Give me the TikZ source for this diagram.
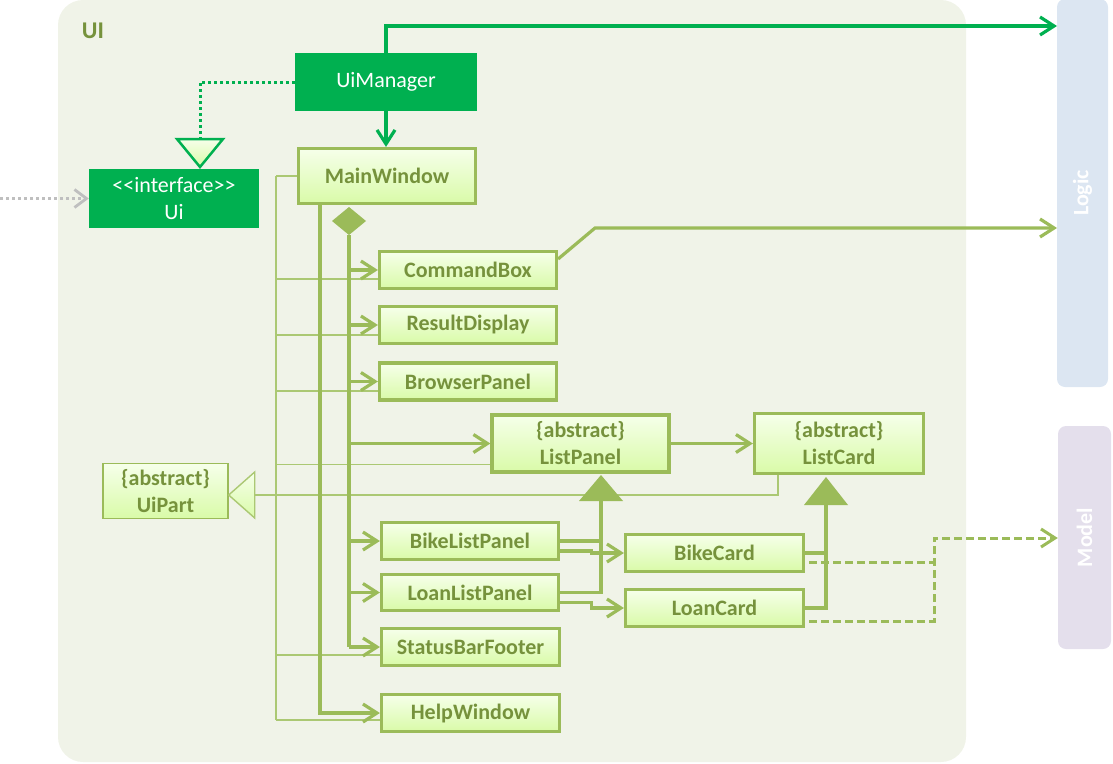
\documentclass[tikz,border=0pt]{standalone}
\usepackage{fontspec}
\usepackage{graphicx}
\setmainfont{Carlito}
\usetikzlibrary{arrows.meta,calc}
\definecolor{cOlive}{HTML}{9BBB59}
\definecolor{cOliveText}{HTML}{76923C}
\definecolor{cGreen}{HTML}{00B050}
\definecolor{cUiBg}{HTML}{F0F3E8}
\definecolor{cBoxTop}{HTML}{F6FFEA}
\definecolor{cBoxBot}{HTML}{D9FBA8}
\definecolor{cLogic}{HTML}{DCE6F2}
\definecolor{cModel}{HTML}{E4DFEC}
\definecolor{cThin}{HTML}{ABC873}
\definecolor{cGray}{HTML}{BFBFBF}
\begin{document}
\begin{tikzpicture}[x=1pt,y=-1pt,
  cls/.style={draw=cOlive, line width=3.2pt, top color=cBoxTop, bottom color=cBoxBot,
    text=cOliveText, font=\bfseries\fontsize{22}{27}\selectfont, inner sep=0pt, align=center},
  gbox/.style={fill=cGreen, text=white, font=\fontsize{22}{27}\selectfont, inner sep=0pt, align=center},
  layer/.style={rounded corners=8pt, text=white, font=\bfseries\fontsize{22}{22}\selectfont, inner sep=0pt},
  conn/.style={draw=cOlive, line width=3.2pt},
  arr/.style={conn, -{Straight Barb[length=14pt,width=18pt]}},
  garr/.style={draw=cGreen, line width=3.2pt, -{Straight Barb[length=14pt,width=18pt]}},
  thinl/.style={draw=cThin, line width=1.4pt},
  dconn/.style={draw=cOlive, line width=3pt, dash pattern=on 8pt off 4pt}]
\useasboundingbox (0,0) rectangle (1113,763);
% container
\fill[cUiBg, rounded corners=25pt] (58,0) rectangle (966,762);
\node[text=cOliveText, font=\bfseries\fontsize{24}{24}\selectfont, inner sep=0pt] (uilabel) at (93,31) {UI};
% layers
\node[layer, fill=cLogic, minimum width=51pt, minimum height=388pt] (logic) at (1082.5,193) {\rotatebox{90}{Logic}};
\node[layer, fill=cModel, minimum width=53pt, minimum height=223pt] (model) at (1084.5,537.5) {\rotatebox{90}{Model}};
% nodes
\node[gbox, minimum width=182pt, minimum height=58pt] (uimgr) at (386,82) {UiManager};
\node[gbox, minimum width=170pt, minimum height=59pt] (ui) at (174,198.5) {<\kern0pt<interface>\kern0pt>\\Ui};
\node[cls, minimum width=177pt, minimum height=55pt] (mainwin) at (387,176) {MainWindow};
\node[cls, minimum width=177pt, minimum height=37pt] (cmd) at (468,270) {CommandBox};
\node[cls, minimum width=177pt, minimum height=37pt] (res) at (468,325) {ResultDisplay};
\node[cls, minimum width=177pt, minimum height=37pt] (browser) at (468,381.5) {BrowserPanel};
\node[cls, minimum width=177pt, minimum height=57pt] (listpanel) at (580.5,443.5) {\{abstract\}\\ListPanel};
\node[cls, minimum width=169pt, minimum height=60pt] (listcard) at (839,443.5) {\{abstract\}\\ListCard};
\node[cls, minimum width=177pt, minimum height=37pt] (bikelist) at (470,541) {BikeListPanel};
\node[cls, minimum width=177pt, minimum height=36pt] (loanlist) at (470,592.5) {LoanListPanel};
\node[cls, minimum width=178pt, minimum height=37pt] (status) at (470.5,647) {StatusBarFooter};
\node[cls, minimum width=178pt, minimum height=37pt] (help) at (470.5,713) {HelpWindow};
\node[cls, minimum width=178pt, minimum height=37pt] (bikecard) at (714.5,553) {BikeCard};
\node[cls, minimum width=178pt, minimum height=37pt] (loancard) at (714.5,608) {LoanCard};
\node[cls, line width=1.4pt, minimum width=125pt, minimum height=55pt] (uipart) at (165.5,491) {\{abstract\}\\UiPart};
% thin inheritance lines to UiPart
\coordinate (sp) at (276,176);
\coordinate (upTip) at ($(uipart.east)+(0,4)$);
\coordinate (upBase) at ($(upTip)+(26,0)$);
\coordinate (lcB) at ($(listcard.south)+(-61,0)$);
\foreach \n/\o in {cmd/9,res/10,browser/9.5,listpanel/21,status/8,help/7}{
  \coordinate (\n-t) at ($(\n.west)+(0,\o)$);
  \draw[thinl] (\n-t) -- (sp |- \n-t);
}
\draw[thinl] (mainwin.west) -- (sp);
\draw[thinl] (sp) -- (sp |- help-t);
\draw[thinl] (lcB) |- (upBase);
\draw[thinl, top color=cBoxTop, bottom color=cBoxBot] (upTip) -- ++(26,-23) -- ++(0,46) -- cycle;
% UiManager connections
\coordinate (uiTip) at (200,167);
\draw[draw=cGreen, line width=2.5pt, top color=cBoxTop, bottom color=cBoxBot] (uiTip) -- ++(-23,-28) -- ++(46,0) -- cycle;
\draw[draw=cGreen, line width=3pt, dash pattern=on 3pt off 3pt] (uimgr.west) -| ($(uiTip)+(0,-28)$);
\draw[garr] (uimgr.south) -- (uimgr.south |- mainwin.north);
\coordinate (lgIn1) at (1057,26);
\draw[garr] (uimgr.north) |- (lgIn1);
% external gray arrow
\coordinate (ext) at (0,198.5);
\draw[draw=cGray, line width=2.8pt, dash pattern=on 3pt off 3pt, -{Straight Barb[length=12pt,width=18pt]}] (ext) -- (ui.west);
% composition from MainWindow
\fill[cOlive] (349,207) -- (366,221) -- (349,235) -- (332,221) -- cycle;
\coordinate (trunk) at (349,235);
\draw[conn] (trunk) -- (trunk |- status.west);
\foreach \n in {cmd,res,browser,listpanel,bikelist,loanlist,status}{
  \draw[arr] (trunk |- \n.west) -- (\n.west);
}
\coordinate (helpTrunk) at (320,205);
\draw[arr] (helpTrunk) |- (help.west);
% CommandBox to Logic
\coordinate (cbOut) at ($(cmd.east)+(0,-11)$);
\coordinate (lgIn2) at (1057,228);
\draw[arr] (cbOut) -- (595,228) -- (lgIn2);
% ListPanel to ListCard
\draw[arr] (listpanel.east) -- (listcard.west |- listpanel.east);
% BikeList/LoanList inherit ListPanel
\coordinate (lpTip) at (601,475);
\coordinate (lpBase) at (601,501);
\draw[conn] (bikelist.east) -- (lpBase |- bikelist.east);
\draw[conn] (loanlist.east) -| (lpBase);
\fill[cOlive] (lpTip) -- ++(-22,26) -- ++(44,0) -- cycle;
% lists to cards
\draw[arr] ($(bikelist.east)+(0,10)$) -- ++(31,0) |- (bikecard.west);
\draw[arr] ($(loanlist.east)+(0,10)$) -- ++(31,0) |- (loancard.west);
% cards inherit ListCard
\coordinate (lcTip) at (826,477);
\coordinate (lcBase) at (826,505);
\draw[conn] (bikecard.east) -- (lcBase |- bikecard.east);
\draw[conn] (loancard.east) -| (lcBase);
\fill[cOlive] (lcTip) -- ++(-22,28) -- ++(44,0) -- cycle;
% cards to Model
\coordinate (mj) at (934,538);
\coordinate (bcOut) at ($(bikecard.east)+(4,9)$);
\coordinate (lcOut) at ($(loancard.east)+(4,13)$);
\draw[dconn] (bcOut) -- (mj |- bcOut);
\draw[dconn, -{Straight Barb[length=14pt,width=18pt]}] (lcOut) -| (mj) -- (model.west |- mj);
\end{tikzpicture}
\end{document}
